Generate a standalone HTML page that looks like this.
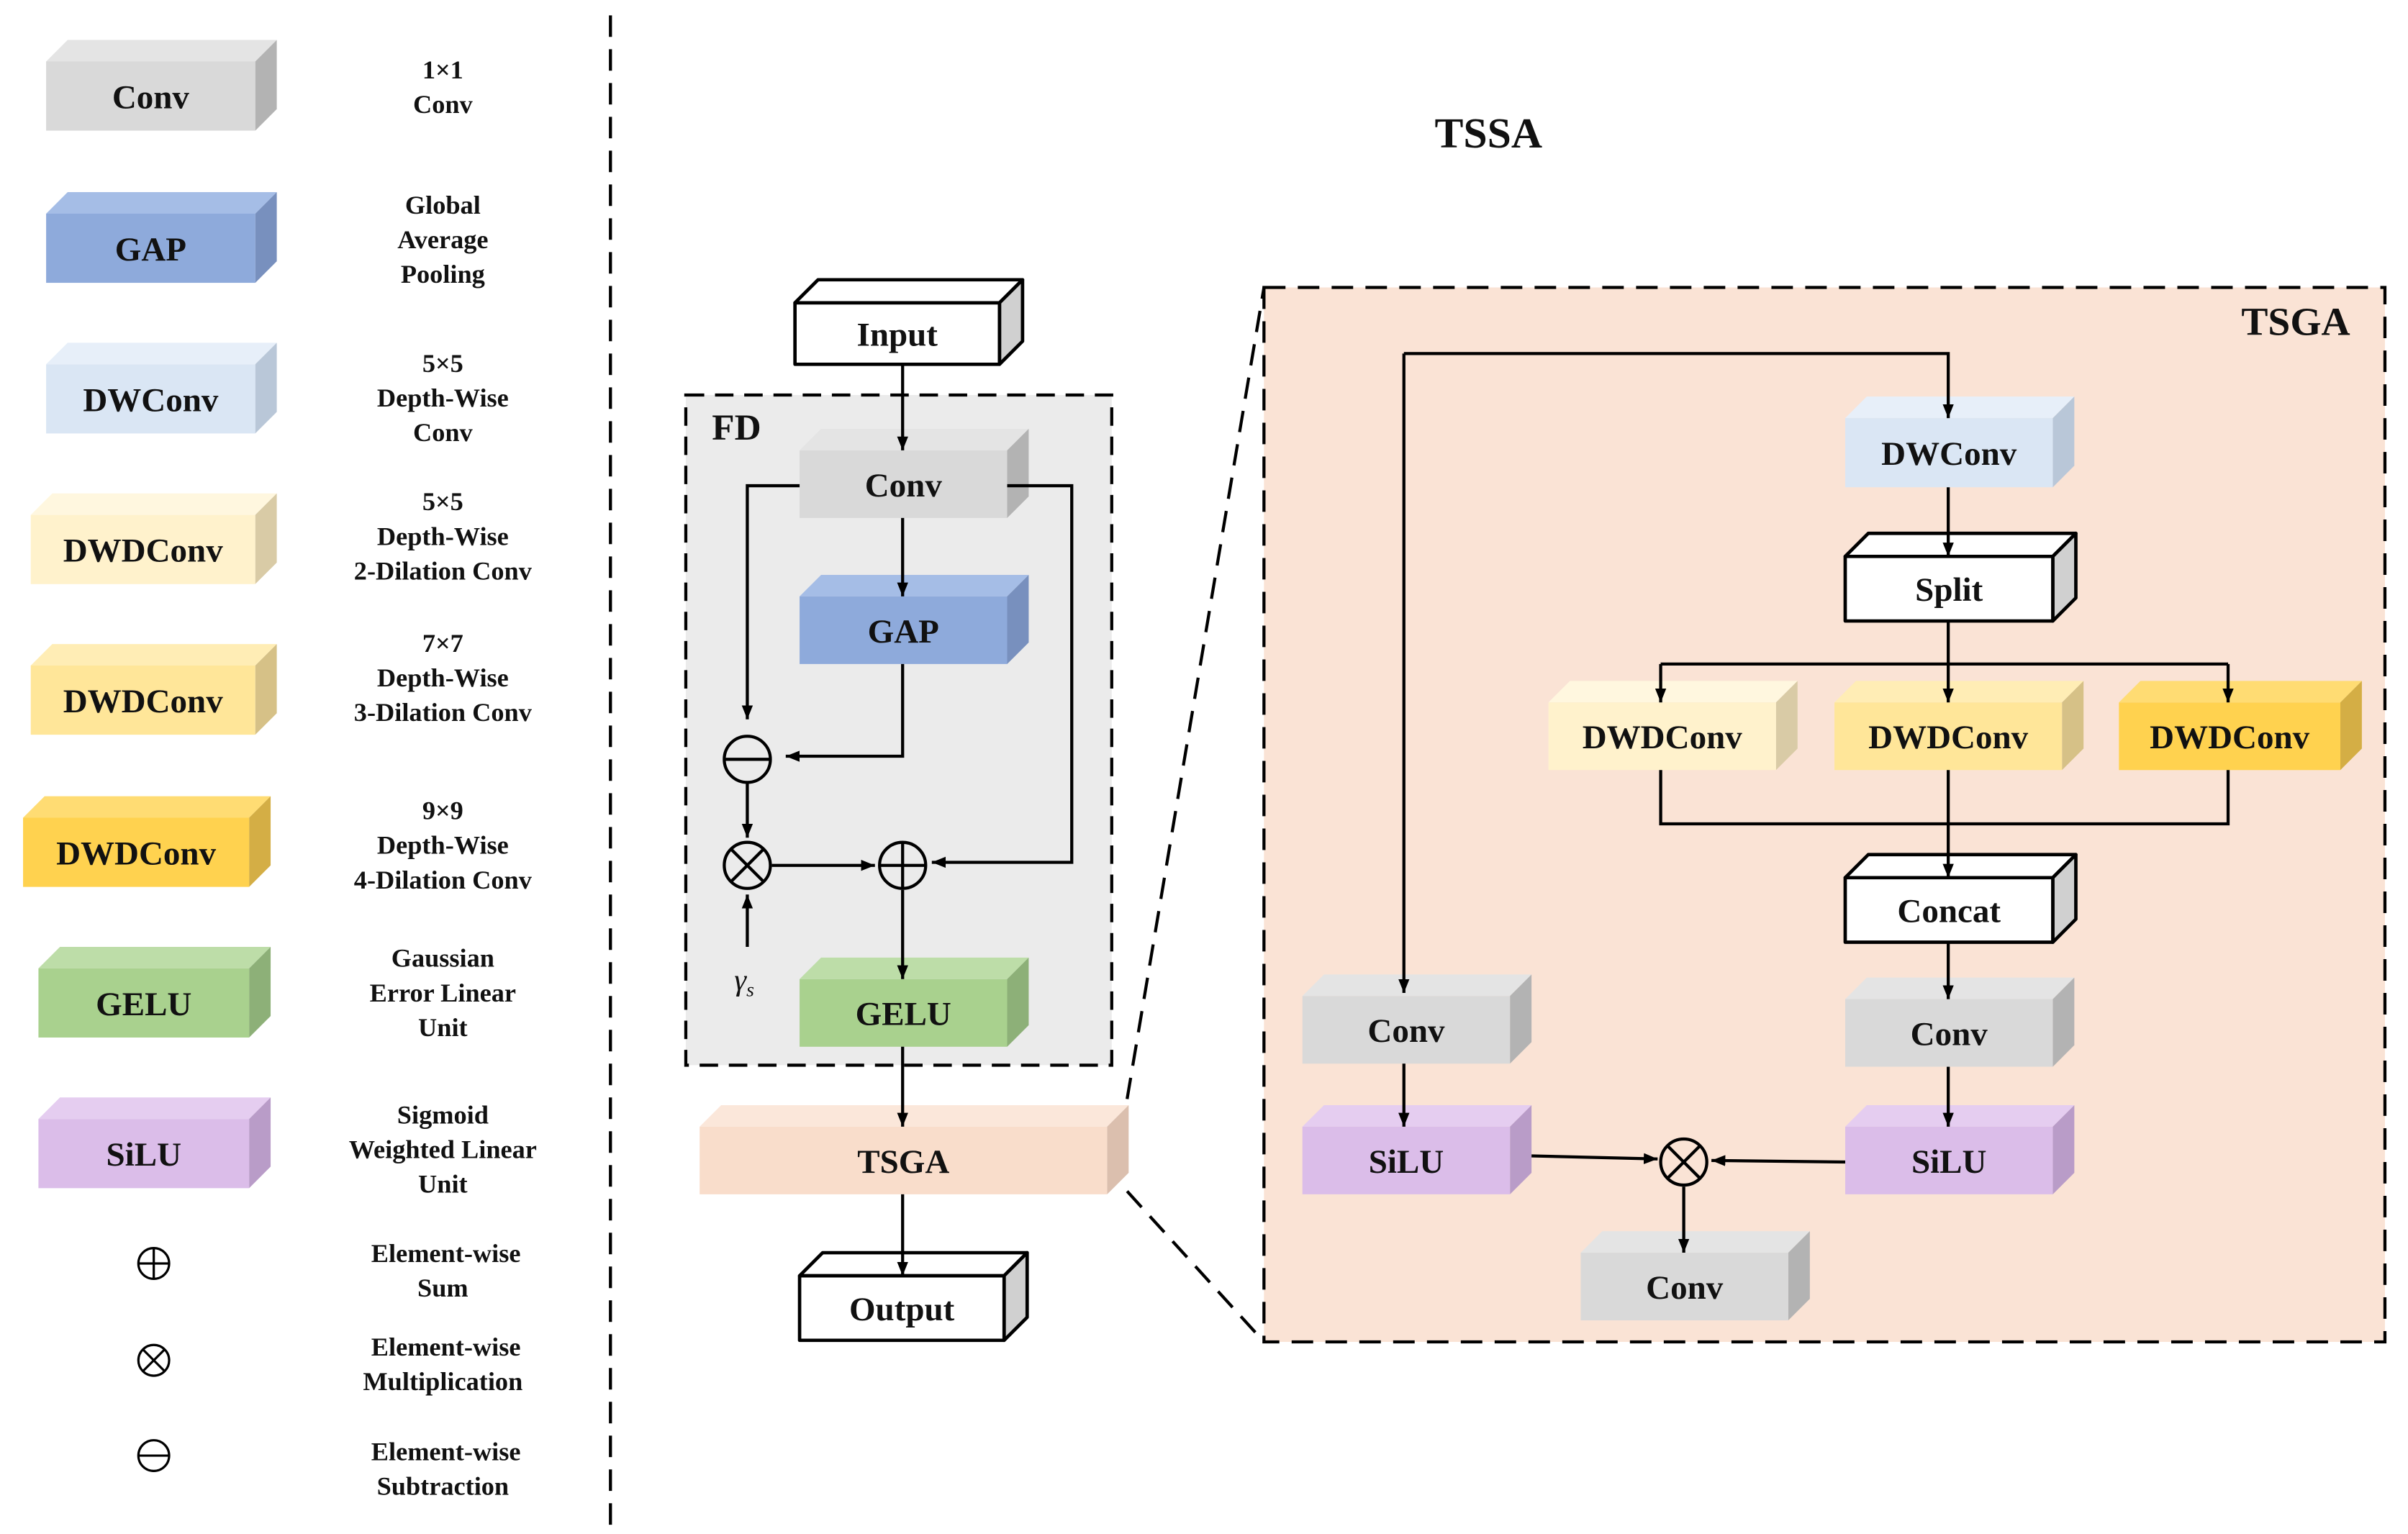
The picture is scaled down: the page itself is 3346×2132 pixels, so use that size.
<!DOCTYPE html>
<html><head><meta charset="utf-8">
<style>html,body{margin:0;padding:0;background:#fff;width:3346px;height:2132px;overflow:hidden}
svg{display:block}
text{font-family:"Liberation Serif",serif;font-weight:bold;fill:#111}
</style></head><body>
<svg id="s" width="3346" height="2132" viewBox="0 0 1566 998" preserveAspectRatio="none" xmlns="http://www.w3.org/2000/svg">
<defs><marker id="a" viewBox="0 0 10 10" refX="10" refY="5" markerWidth="9" markerHeight="9" markerUnits="userSpaceOnUse" orient="auto"><path d="M0,1 L10,5 L0,9 z" fill="#000"/></marker></defs>
<g id="g"></g>
</svg>
<script>
var o='';
function box(x,y,w,h,d,c,label,fs,stroke){
 var f=c[0],t=c[1],s=c[2];
 var st=stroke?' stroke="#000" stroke-width="2.2" stroke-linejoin="round"':'';
 o+='<polygon points="'+x+','+y+' '+(x+d)+','+(y-d)+' '+(x+w+d)+','+(y-d)+' '+(x+w)+','+y+'" fill="'+t+'"'+st+'/>';
 o+='<polygon points="'+(x+w)+','+y+' '+(x+w+d)+','+(y-d)+' '+(x+w+d)+','+(y+h-d)+' '+(x+w)+','+(y+h)+'" fill="'+s+'"'+st+'/>';
 o+='<rect x="'+x+'" y="'+y+'" width="'+w+'" height="'+h+'" fill="'+f+'"'+st+'/>';
 o+='<text x="'+(x+w/2)+'" y="'+(y+h/2+fs*0.36)+'" font-size="'+fs+'" text-anchor="middle">'+label+'</text>';
}
var C={conv:['#d9d9d9','#e4e4e4','#b3b3b3'],gap:['#8eaadb','#a5bde6','#7890be'],dw:['#dae6f4','#e7eff9','#b9c7d8'],
d1:['#fff2cc','#fff7df','#d9cba6'],d2:['#ffe699','#ffedb5','#d6c187'],d3:['#ffd24f','#ffdc73','#d4ae45'],
gelu:['#a9d18e','#bddda8','#8db078'],silu:['#dbbde9','#e5cdf0','#b99cc8'],tsga:['#f9ddcb','#fbe7da','#dbbfae'],
w:['#ffffff','#ffffff','#d0d0d0']};
function L(p,arr){o+='<polyline points="'+p+'" fill="none" stroke="#000" stroke-width="2"'+(arr?' marker-end="url(#a)"':'')+'/>';}
function T(x,y,s,fs,anchor){o+='<text x="'+x+'" y="'+y+'" font-size="'+fs+'" text-anchor="'+(anchor||'middle')+'">'+s+'</text>';}
function circ(x,y,r,type,sw){sw=sw||2;o+='<circle cx="'+x+'" cy="'+y+'" r="'+r+'" fill="none" stroke="#000" stroke-width="'+sw+'"/>';
 if(type!='x')o+='<line x1="'+(x-r)+'" y1="'+y+'" x2="'+(x+r)+'" y2="'+y+'" stroke="#000" stroke-width="'+sw+'"/>';
 if(type=='+')o+='<line x1="'+x+'" y1="'+(y-r)+'" x2="'+x+'" y2="'+(y+r)+'" stroke="#000" stroke-width="'+sw+'"/>';
 if(type=='x'){var k=r*0.707;o+='<line x1="'+(x-k)+'" y1="'+(y-k)+'" x2="'+(x+k)+'" y2="'+(y+k)+'" stroke="#000" stroke-width="'+sw+'"/><line x1="'+(x-k)+'" y1="'+(y+k)+'" x2="'+(x+k)+'" y2="'+(y-k)+'" stroke="#000" stroke-width="'+sw+'"/>';}}
box(30,40,136,45,14,C.conv,'Conv',22);
box(30,139,136,45,14,C.gap,'GAP',22);
box(30,237,136,45,14,C.dw,'DWConv',22);
box(20,335,146,45,14,C.d1,'DWDConv',22);
box(20,433,146,45,14,C.d2,'DWDConv',22);
box(15,532,147,45,14,C.d3,'DWDConv',22);
box(25,630,137,45,14,C.gelu,'GELU',22);
box(25,728,137,45,14,C.silu,'SiLU',22);
var desc=[[51,['1×1','Conv']],[139,['Global','Average','Pooling']],[242,['5×5','Depth-Wise','Conv']],[332,['5×5','Depth-Wise','2-Dilation Conv']],[424,['7×7','Depth-Wise','3-Dilation Conv']],[533,['9×9','Depth-Wise','4-Dilation Conv']],[629,['Gaussian','Error Linear','Unit']],[731,['Sigmoid','Weighted Linear','Unit']],[821,['Element-wise','Sum']],[882,['Element-wise','Multiplication']],[950,['Element-wise','Subtraction']]];
desc.forEach(function(d){d[1].forEach(function(s,i){T(i==0&&d[0]>800?290:288,d[0]+i*22.5,s,17);});});
circ(100,822,10,'+',1.5);circ(100,885,10,'x',1.5);circ(100,947,10,'-',1.5);
o+='<line x1="397" y1="10" x2="397" y2="998" stroke="#000" stroke-width="2" stroke-dasharray="14,8"/>';
T(968,96,'TSSA',28);
o+='<rect x="446" y="257" width="277" height="436" fill="#ebebeb" stroke="#000" stroke-width="2" stroke-dasharray="12,7"/>';
T(463,286,'FD',24,'start');
box(517,197,133,40,15,C.w,'Input',22,true);
box(520,293,135,44,14,C.conv,'Conv',22);
box(520,388,135,44,14,C.gap,'GAP',22);
box(520,637,135,44,14,C.gelu,'GELU',22);
box(455,733,265,44,14,C.tsga,'TSGA',22);
box(520,830,133,42,15,C.w,'Output',22,true);
L('587,237 587,293',1);L('587,337 587,388',1);
L('520,316 486,316 486,468',1);L('587,432 587,492 511,492',1);
L('655,316 697,316 697,561 606,561',1);
L('486,509 486,545',1);L('502,563 569,563',1);L('486,616 486,582',1);
L('587,579 587,637',1);L('587,681 587,733',1);L('587,777 587,830',1);
circ(486,494,15,'-');circ(486,563,15,'x');circ(587,563,15,'+');
o+='<text x="484" y="644" font-size="20" font-style="italic" text-anchor="middle" style="font-weight:normal">γ<tspan font-size="13" dy="4">s</tspan></text>';
o+='<line x1="733" y1="715" x2="822" y2="187" stroke="#000" stroke-width="2" stroke-dasharray="14,8"/>';
o+='<line x1="733" y1="775" x2="822" y2="873" stroke="#000" stroke-width="2" stroke-dasharray="14,8"/>';
o+='<rect x="822" y="187" width="729" height="686" fill="#fae3d5" stroke="#000" stroke-width="2" stroke-dasharray="14,8"/>';
T(1493,218,'TSGA',26);
box(1200,272,135,45,14,C.dw,'DWConv',22);
box(1200,362,135,42,15,C.w,'Split',22,true);
box(1007,457,148,44,14,C.d1,'DWDConv',22);
box(1193,457,148,44,14,C.d2,'DWDConv',22);
box(1378,457,144,44,14,C.d3,'DWDConv',22);
box(1200,571,135,42,15,C.w,'Concat',22,true);
box(1200,650,135,44,14,C.conv,'Conv',22);
box(1200,733,135,44,14,C.silu,'SiLU',22);
box(847,648,135,44,14,C.conv,'Conv',22);
box(847,733,135,44,14,C.silu,'SiLU',22);
box(1028,815,135,44,14,C.conv,'Conv',22);
L('913,230 1267,230 1267,272',1);
L('913,230 913,646',1);
L('1267,317 1267,362',1);
L('1267,404 1267,457',1);L('1080,432 1080,457',1);L('1449,432 1449,457',1);
L('1080,432 1449,432');
L('1080,501 1080,536 1449,536 1449,501');L('1267,501 1267,571',1);
L('1267,613 1267,650',1);L('1267,694 1267,733',1);L('913,692 913,733',1);
L('996,752 1078,754',1);L('1200,756 1113,755',1);L('1095,772 1095,815',1);
circ(1095,756,15,'x');
document.getElementById('g').innerHTML=o;
</script>
</body></html>
